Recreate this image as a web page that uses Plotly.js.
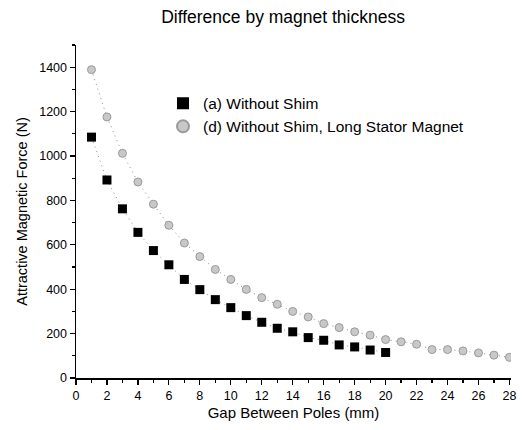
<!DOCTYPE html>
<html>
<head>
<meta charset="utf-8">
<script src="https://cdn.plot.ly/plotly-3.0.1.min.js"></script>
<style>
  html, body { margin: 0; padding: 0; background: #fff; }
  #chart { width: 524px; height: 430px; }
</style>
</head>
<body>
<div id="chart"></div>
<script>
// Gap between poles (mm)
const gapA = [1, 2, 3, 4, 5, 6, 7, 8, 9, 10, 11, 12, 13, 14, 15, 16, 17, 18, 19, 20];
const gapD = [1, 2, 3, 4, 5, 6, 7, 8, 9, 10, 11, 12, 13, 14, 15, 16, 17, 18, 19, 20,
              21, 22, 23, 24, 25, 26, 27, 28];

// Attractive magnetic force (N)
const forceA = [1085, 892, 762, 656, 574, 510, 444, 398, 353, 317, 281, 251, 224, 208,
                182, 170, 149, 140, 126, 115];
const forceD = [1389, 1176, 1012, 883, 783, 688, 608, 547, 489, 444, 399, 362, 332, 300,
                275, 245, 227, 208, 193, 173, 163, 152, 128, 128, 122, 113, 103, 93];

const nameA = '(a) Without Shim';
const nameD = '(d) Without Shim, Long Stator Magnet';

const FONT = 'Liberation Sans, Arial, sans-serif';

const markerA = { symbol: 'square', size: 9, color: '#000' };
const markerD = { symbol: 'circle', size: 8, color: '#c8c8c8', line: { color: '#9a9a9a', width: 1 } };
const trendLine = { color: '#8c8c8c', width: 1, dash: '1px,4px' };

const traces = [
  // faint dotted trend through each series
  { x: gapA, y: forceA, type: 'scatter', mode: 'lines', line: trendLine,
    showlegend: false, hoverinfo: 'skip' },
  { x: gapD, y: forceD, type: 'scatter', mode: 'lines', line: trendLine,
    showlegend: false, hoverinfo: 'skip' },
  // measured points
  { x: gapA, y: forceA, name: nameA, type: 'scatter', mode: 'markers', marker: markerA },
  { x: gapD, y: forceD, name: nameD, type: 'scatter', mode: 'markers', marker: markerD }
];

const layout = {
  width: 524, height: 430,
  margin: { l: 76, r: 13, t: 45, b: 52 },
  paper_bgcolor: '#fff', plot_bgcolor: '#fff',
  font: { family: FONT, size: 12, color: '#000' },
  title: {
    text: 'Difference by magnet thickness',
    font: { family: FONT, size: 17.5, color: '#000' },
    xref: 'paper', x: 0.476, xanchor: 'center',
    yref: 'container', y: 0.96, yanchor: 'middle'
  },
  showlegend: true,
  legend: {
    x: 0.2, y: 0.875, xanchor: 'left', yanchor: 'top',
    bgcolor: 'rgba(0,0,0,0)', borderwidth: 0,
    font: { family: FONT, size: 15.5, color: '#000' },
    itemsizing: 'constant', tracegroupgap: 0
  },
  xaxis: {
    range: [0, 28.1], tickmode: 'linear', tick0: 0, dtick: 2,
    showgrid: false, zeroline: false,
    showline: true, linecolor: '#000', linewidth: 1.5,
    ticks: 'outside', ticklen: 5, tickwidth: 1.2, tickcolor: '#000',
    minor: { dtick: 1, ticks: 'outside', ticklen: 3, tickcolor: '#000', showgrid: false },
    tickfont: { family: FONT, size: 12.5 },
    title: { text: 'Gap Between Poles (mm)', font: { family: FONT, size: 15 }, standoff: 6 }
  },
  yaxis: {
    range: [0, 1500], tickmode: 'linear', tick0: 0, dtick: 200,
    showgrid: false, zeroline: false,
    showline: true, linecolor: '#000', linewidth: 1.5,
    ticks: 'outside', ticklen: 5, tickwidth: 1.2, tickcolor: '#000',
    minor: { dtick: 100, ticks: 'outside', ticklen: 3, tickcolor: '#000', showgrid: false },
    tickfont: { family: FONT, size: 12.5 },
    title: { text: 'Attractive Magnetic Force (N)', font: { family: FONT, size: 14.5 }, standoff: 8 }
  }
};

Plotly.newPlot('chart', traces, layout, { staticPlot: true, displayModeBar: false });
</script>
</body>
</html>
